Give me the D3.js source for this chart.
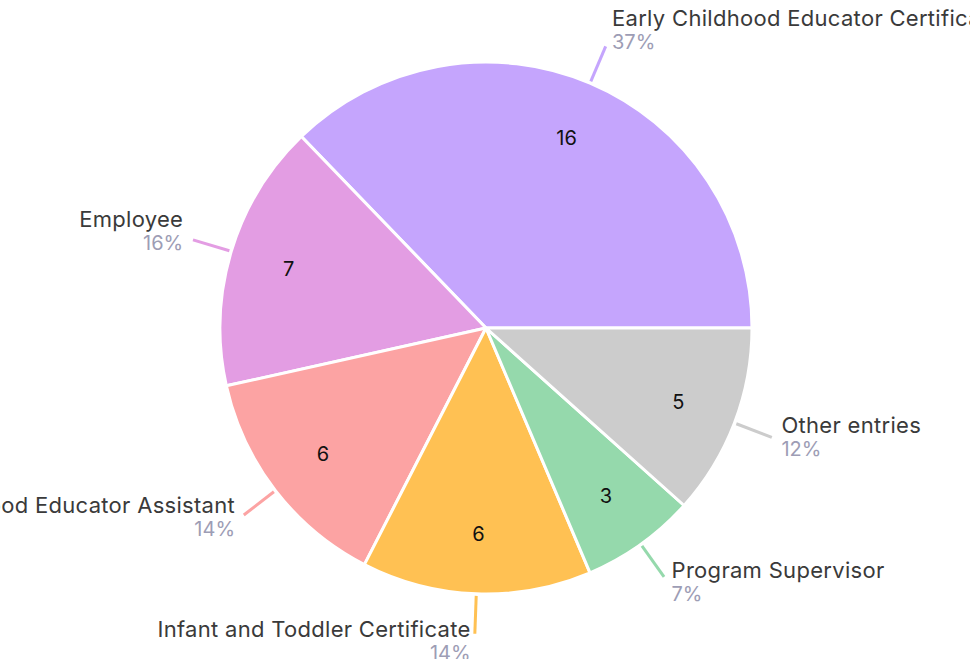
<!DOCTYPE html>
<html><head><meta charset="utf-8">
<script src="https://cdn.jsdelivr.net/npm/d3@7"></script>
<style>html,body{margin:0;padding:0;background:#fff;overflow:hidden}</style>
</head><body><svg id="c" width="970" height="659"></svg>
<script>
const categories = ["Early Childhood Educator Certificate", "Employee", "Early Childhood Educator Assistant", "Infant and Toddler Certificate", "Program Supervisor", "Other entries"];
const values = [16, 7, 6, 6, 3, 5];
const colors = ["#c5a5fd", "#e39de3", "#fca3a3", "#ffc153", "#95d9ac", "#cccccc"];

const W = 970, H = 659, cx = 486, cy = 328, R = 266;
const FONT = "Inter, 'Open Sans', sans-serif";
const svg = d3.select("#c");
const g = svg.append("g").attr("transform", `translate(${cx},${cy})`);
const total = d3.sum(values);
const data = categories.map((c, i) => ({name: c, value: values[i], color: colors[i]}));

const pie = d3.pie().sort(null).value(d => d.value)
  .startAngle(Math.PI / 2).endAngle(Math.PI / 2 - 2 * Math.PI);
const arcs = pie(data);
const arc = d3.arc().innerRadius(0).outerRadius(R);
const inner = d3.arc().innerRadius(206).outerRadius(206);

g.selectAll("path.slice").data(arcs).join("path")
  .attr("class", "slice")
  .attr("d", arc)
  .attr("fill", d => d.data.color)
  .attr("stroke", "#fff").attr("stroke-width", 3).attr("stroke-linejoin", "round");

g.selectAll("text.val").data(arcs).join("text")
  .attr("class", "val")
  .attr("transform", d => `translate(${inner.centroid(d)})`)
  .attr("text-anchor", "middle").attr("dominant-baseline", "central")
  .attr("font-family", FONT).attr("font-size", 20).attr("fill", "#111")
  .text(d => d.data.value);

const r1 = 268, r2 = 306;
arcs.forEach(d => {
  const a = (d.startAngle + d.endAngle) / 2;
  const sx = Math.sin(a), cyy = Math.cos(a);
  const x1 = r1 * sx, y1 = -r1 * cyy, x2 = r2 * sx, y2 = -r2 * cyy;
  g.append("line").attr("x1", x1).attr("y1", y1).attr("x2", x2).attr("y2", y2)
    .attr("stroke", d.data.color).attr("stroke-width", 3);
  const right = sx >= 0;
  const gap = 4 + 6 * Math.abs(sx);
  const tx = x2 + (right ? gap : -gap);
  const by = y2 - 9 - 12 * cyy;
  const anchor = right ? "start" : "end";
  g.append("text").attr("x", tx).attr("y", by).attr("text-anchor", anchor)
    .attr("font-family", FONT).attr("font-size", 22).attr("letter-spacing", "0.3px")
    .attr("fill", "#3a3a3a")
    .text(d.data.name);
  g.append("text").attr("x", tx).attr("y", by + 23).attr("text-anchor", anchor)
    .attr("font-family", FONT).attr("font-size", 20).attr("fill", "#9d9db5")
    .text(Math.round(d.data.value / total * 100) + "%");
});
</script>
</body></html>
